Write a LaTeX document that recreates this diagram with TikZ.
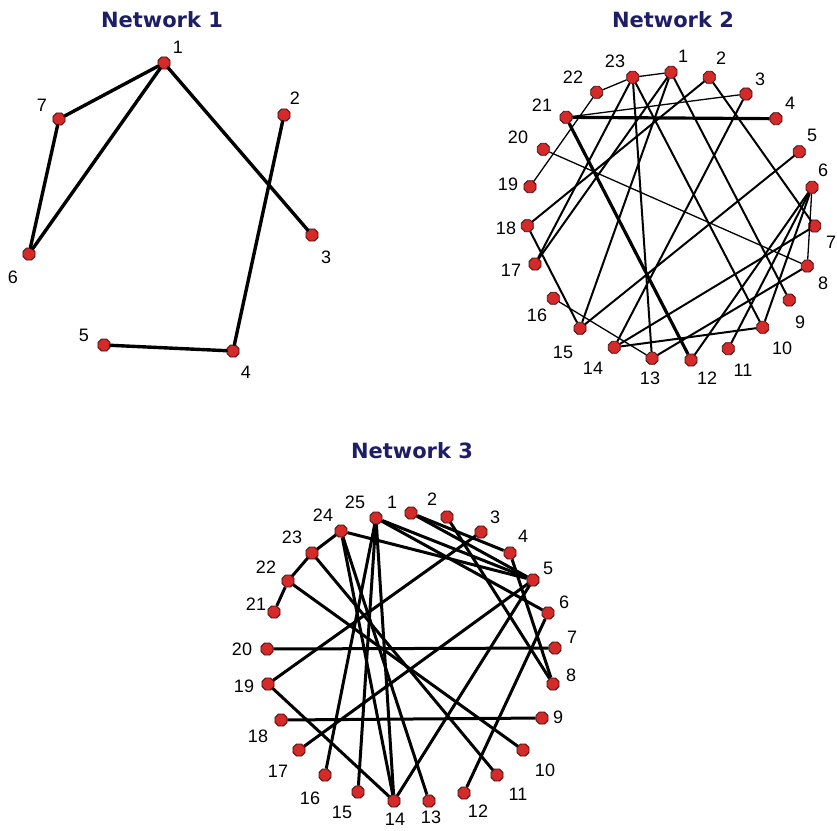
\documentclass[tikz,border=0pt]{standalone}
\usepackage{fontspec}
\setmainfont{Liberation Sans}
\newfontfamily\titlefont{DejaVu Sans}
\usetikzlibrary{shapes.geometric}
\definecolor{navy}{HTML}{1E1E66}
\definecolor{dotred}{HTML}{D42A2A}
\definecolor{dotedge}{HTML}{4A0A0A}
\tikzset{
  dot/.style={regular polygon, regular polygon sides=8, minimum size=13pt, inner sep=0pt,
              fill=dotred, draw=dotedge, line width=0.8pt},
  lab/.style={font=\fontsize{18}{20}\selectfont, inner sep=0pt, text=black},
  ttl/.style={font=\titlefont\bfseries\fontsize{21}{24}\selectfont, text=navy, inner sep=0pt},
  ethick/.style={line width=3.4pt, black, line cap=round},
  emed/.style={line width=2pt, black},
  ethin/.style={line width=1.3pt, black},
  ebold/.style={line width=3.2pt, black},
  ethree/.style={line width=3pt, black}
}
\begin{document}
\begin{tikzpicture}[x=1pt,y=-1pt]
\useasboundingbox (0,0) rectangle (837,830);
\fill[white] (0,0) rectangle (837,830);

% ---------- titles
\node[ttl] (t1) at (162,20) {Network 1};
\node[ttl] (t2) at (673,20) {Network 2};
\node[ttl] (t3) at (412,451) {Network 3};

% ---------- Network 1
\foreach \n/\x/\y in {1/164/63, 2/284/115, 3/312/235, 4/233/351, 5/104/345, 6/29/254, 7/59/119}
  \node[dot] (a\n) at (\x,\y) {};
\foreach \n/\x/\y in {1/178/47, 2/295/98, 3/326/257, 4/246/372, 5/84/335, 6/13/277, 7/42/105}
  \node[lab] (al\n) at (\x,\y) {\n};
\foreach \u/\v in {1/7, 1/6, 7/6, 1/3, 2/4, 5/4}
  \draw[ethick] (a\u) -- (a\v);

% ---------- Network 2
\foreach \n/\x/\y in {23/632.7/77.3, 1/671/72.3, 2/709.3/77.3, 3/746/94, 4/776/118.7,
  5/799.3/151.7, 6/812/187.3, 7/814.7/226, 8/807.3/266, 9/789.3/300, 10/762.7/327.3,
  11/728.3/348.7, 12/691/360, 13/652/358.3, 14/614.3/347.3, 15/580/328.3, 16/553.3/298.3,
  17/535/264, 18/527.3/225.7, 19/530/186.7, 20/543.3/149.3, 21/566/117.3, 22/596.7/92.3}
  \node[dot] (b\n) at (\x,\y) {};
\foreach \n/\x/\y in {1/683/56, 2/721/58, 3/760/79, 4/790/103, 5/812/135, 6/823/170,
  7/831/242, 8/823/283, 9/800/322, 10/782/348, 11/743/370, 12/707/378, 13/650/378,
  14/593/368, 15/563/352, 16/537/315, 17/511/270, 18/506/228, 19/508/184, 20/518/137,
  21/542/105, 22/573/77, 23/615/61}
  \node[lab] (bl\n) at (\x,\y) {\n};
\foreach \u/\v in {21/4, 21/12}
  \draw[ebold] (b\u) -- (b\v);
\foreach \u/\v in {1/9, 23/10, 17/23, 17/1, 15/5, 14/3, 18/2, 18/15, 15/1, 23/13, 14/10, 2/7, 6/10, 6/11, 6/12, 8/13, 7/14}
  \draw[emed] (b\u) -- (b\v);
\foreach \u/\v in {1/23, 22/23, 21/3, 20/8, 19/22, 16/13, 6/8}
  \draw[ethin] (b\u) -- (b\v);

% ---------- Network 3
\foreach \n/\x/\y in {25/376/518, 1/411/513, 2/447/517, 3/481/532, 4/510/553, 5/533/580,
  6/548/613, 7/555/648, 8/553/684, 9/542/718, 10/523/750, 11/497/775, 12/464/793,
  13/429/801, 14/394/801, 15/358/792, 16/325/775, 17/299/750, 18/281/720, 19/268/684,
  20/267/649, 21/274/612, 22/288/581, 23/312/553, 24/341/531}
  \node[dot] (c\n) at (\x,\y) {};
\foreach \n/\x/\y in {25/355/502, 1/392/502, 2/432/499, 3/495/517, 4/523/536, 5/548/568,
  6/564/602, 7/572/637, 8/571/675, 9/558/717, 10/545/770, 11/518/794, 12/478/811,
  13/431/817, 14/395/819, 15/342/812, 16/310/798, 17/278/771, 18/258/736, 19/244/686,
  20/242/649, 21/256/604, 22/266/567, 23/292/537, 24/323/515}
  \node[lab] (cl\n) at (\x,\y) {\n};
\foreach \u/\v in {21/22, 22/23, 23/24, 24/5, 25/5, 25/6, 1/5, 1/4, 2/8, 4/8, 20/7, 18/9,
  19/14, 19/3, 17/5, 16/25, 15/25, 14/25, 14/24, 13/24, 14/5, 12/6, 23/11, 22/10}
  \draw[ethree] (c\u) -- (c\v);
\end{tikzpicture}
\end{document}
